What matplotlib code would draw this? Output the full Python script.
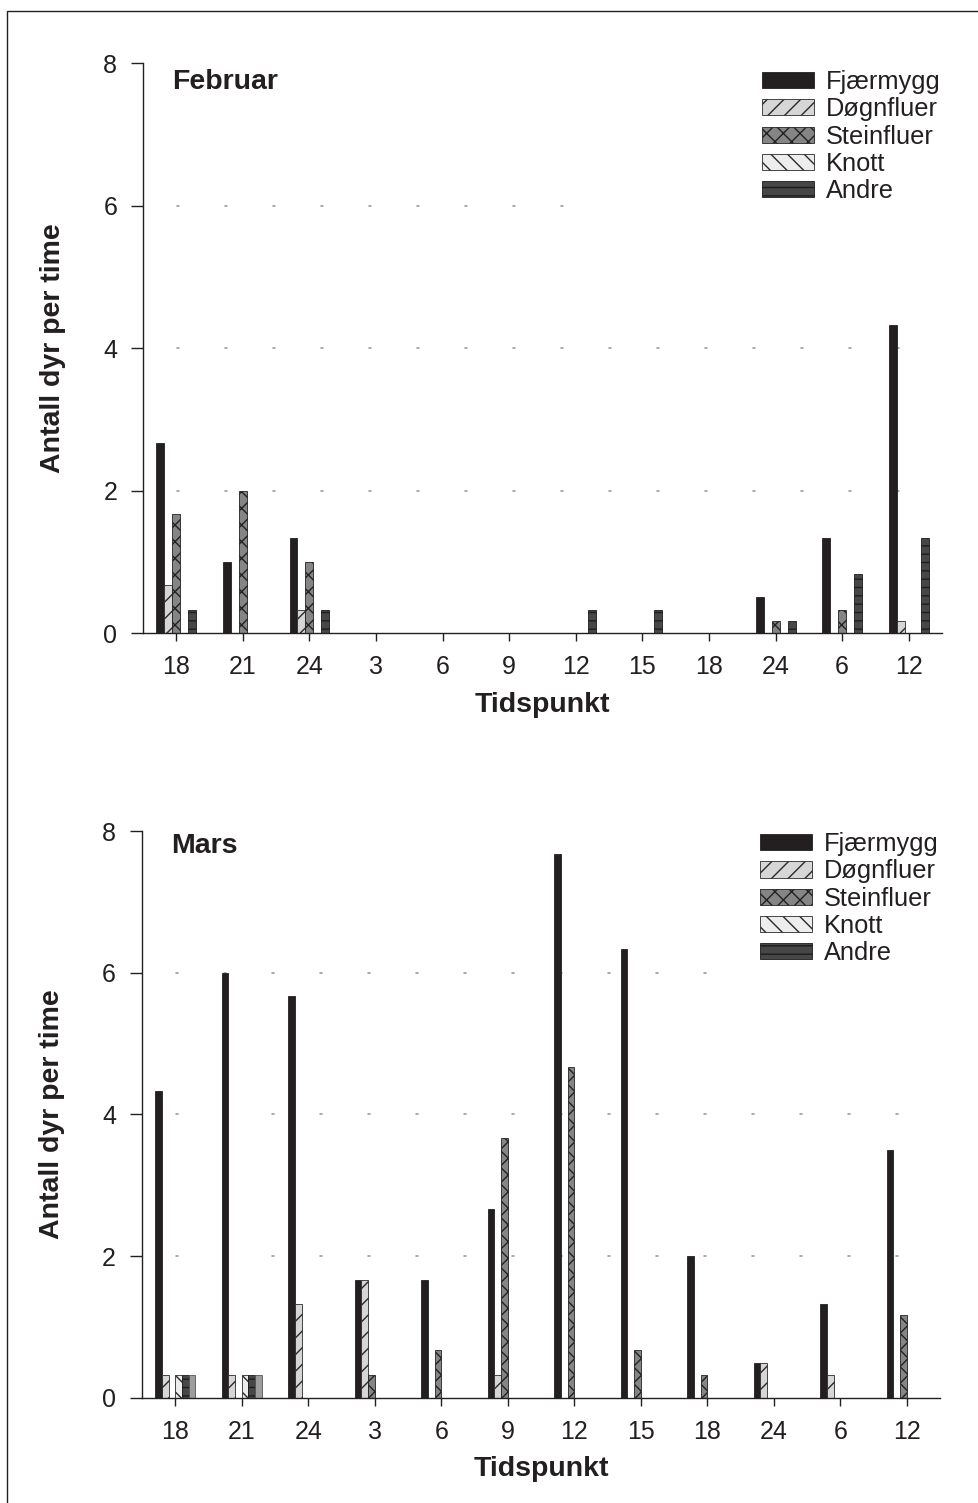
import matplotlib
matplotlib.use("Agg")
import matplotlib.pyplot as plt
import matplotlib.patches as mpatches
import numpy as np

plt.rcParams["font.family"] = ["Liberation Sans", "DejaVu Sans"]
plt.rcParams["hatch.linewidth"] = 1.0
plt.rcParams["lines.scale_dashes"] = False

INK = "#231f20"

# Sampling times (hour of day) along the x axis
times = ["18", "21", "24", "3", "6", "9", "12", "15", "18", "24", "6", "12"]
species = ["Fjærmygg", "Døgnfluer", "Steinfluer", "Knott", "Andre"]

# February: animals per hour
feb_fjaermygg = [2.67, 1.0, 1.33, 0, 0, 0, 0, 0, 0, 0.5, 1.33, 4.33]
feb_dognfluer = [0.67, 0, 0.33, 0, 0, 0, 0, 0, 0, 0, 0, 0.17]
feb_steinfluer = [1.67, 2.0, 1.0, 0, 0, 0, 0, 0, 0, 0.17, 0.33, 0]
feb_knott = [0, 0, 0, 0, 0, 0, 0, 0, 0, 0, 0, 0]
feb_andre = [0.33, 0, 0.33, 0, 0, 0, 0.33, 0.33, 0, 0.17, 0.83, 1.33]

# March: animals per hour
mar_fjaermygg = [4.33, 6.0, 5.67, 1.67, 1.67, 2.67, 7.67, 6.33, 2.0, 0.5, 1.33, 3.5]
mar_dognfluer = [0.33, 0.33, 1.33, 1.67, 0, 0.33, 0, 0, 0, 0.5, 0.33, 0]
mar_steinfluer = [0, 0, 0, 0.33, 0.67, 3.67, 4.67, 0.67, 0.33, 0, 0, 1.17]
mar_knott = [0.33, 0.33, 0, 0, 0, 0, 0, 0, 0, 0, 0, 0]
mar_andre = [0.33, 0.33, 0, 0, 0, 0, 0, 0, 0, 0, 0, 0]
mar_extra = [0.33, 0.33, 0, 0, 0, 0, 0, 0, 0, 0, 0, 0]

styles = {
    "Fjærmygg": dict(facecolor=INK, edgecolor=INK),
    "Døgnfluer": dict(facecolor="#d6d6d6", edgecolor="#2a2a2a", hatch="//"),
    "Steinfluer": dict(facecolor="#858585", edgecolor="#222222", hatch="xx"),
    "Knott": dict(facecolor="#ededed", edgecolor="#2a2a2a", hatch="\\\\"),
    "Andre": dict(facecolor="#474747", edgecolor="#1c1c1c", hatch="--"),
    "extra": dict(facecolor="#9d9d9d", edgecolor="#555555"),
}


def draw_panel(ax, series, width, title, title_y, grid_ends, legend_y):
    x = np.arange(len(times))
    n = len(series)
    for k, (name, values) in enumerate(series):
        vals = np.asarray(values, dtype=float)
        offset = (k - (n - 1) / 2) * width
        keep = vals > 0
        ax.bar(x[keep] + offset, vals[keep], width=width, linewidth=0.6,
               zorder=3, **styles[name])

    # dotted horizontal guides
    for yv, xend in grid_ends.items():
        ax.axhline(yv, xmin=0, xmax=xend, color="#9a9a9a", lw=1.2,
                   linestyle=(10.46, (2.2, 32.36)), zorder=1)

    ax.set_xlim(-0.5, 11.5)
    ax.set_ylim(0, 8)
    ax.set_xticks(x)
    ax.set_xticklabels(times)
    ax.set_yticks([0, 2, 4, 6, 8])
    for side in ("top", "right"):
        ax.spines[side].set_visible(False)
    for side in ("left", "bottom"):
        ax.spines[side].set_color(INK)
        ax.spines[side].set_linewidth(1.0)
        ax.spines[side].set_zorder(4)
    ax.tick_params(axis="both", direction="out", color=INK, width=1.0,
                   labelsize=18, labelcolor=INK)
    ax.tick_params(axis="y", length=8.6, pad=10)
    ax.tick_params(axis="x", length=5.8, pad=10)

    ax.set_xlabel("Tidspunkt", fontsize=20.5, fontweight="bold", color=INK)
    ax.xaxis.set_label_coords(0.5, -0.103)
    ax.set_ylabel("Antall dyr per time", fontsize=20.5, fontweight="bold",
                  color=INK)
    ax.yaxis.set_label_coords(-0.096, 0.5)

    ax.text(0.036, title_y, title, transform=ax.transAxes, fontsize=20.5,
            fontweight="bold", color=INK, ha="left", va="center")

    handles = [mpatches.Patch(linewidth=0.6, **styles[s]) for s in species]
    leg = ax.legend(handles, species, loc="upper left",
                    bbox_to_anchor=(0.775, legend_y), frameon=False,
                    fontsize=18.3, handlelength=2.03, handleheight=0.6,
                    handletextpad=0.47, labelspacing=0.13, borderpad=0,
                    borderaxespad=0)
    for t in leg.get_texts():
        t.set_color(INK)


fig = plt.figure(figsize=(9.79, 15.03), dpi=100)

ax_feb = fig.add_axes([0.1461, 0.5788, 0.8161, 0.3792])
draw_panel(
    ax_feb,
    [("Fjærmygg", feb_fjaermygg), ("Døgnfluer", feb_dognfluer),
     ("Steinfluer", feb_steinfluer), ("Knott", feb_knott),
     ("Andre", feb_andre)],
    width=0.12, title="Februar", title_y=0.967,
    grid_ends={2: 1.0, 4: 1.0, 6: 0.534}, legend_y=0.988,
)

ax_mar = fig.add_axes([0.1450, 0.0699, 0.8151, 0.3772])
draw_panel(
    ax_mar,
    [("Fjærmygg", mar_fjaermygg), ("Døgnfluer", mar_dognfluer),
     ("Steinfluer", mar_steinfluer), ("Knott", mar_knott),
     ("Andre", mar_andre), ("extra", mar_extra)],
    width=0.10, title="Mars", title_y=0.973,
    grid_ends={2: 1.0, 4: 1.0, 6: 0.72}, legend_y=0.998,
)

# outer frame around the figure
fig.add_artist(mpatches.Rectangle((7 / 979, -0.05), 1.0, (1503 - 11) / 1503 + 0.05,
                                  transform=fig.transFigure, fill=False,
                                  edgecolor=INK, linewidth=1.0))

fig.savefig("out.png", dpi=100)
